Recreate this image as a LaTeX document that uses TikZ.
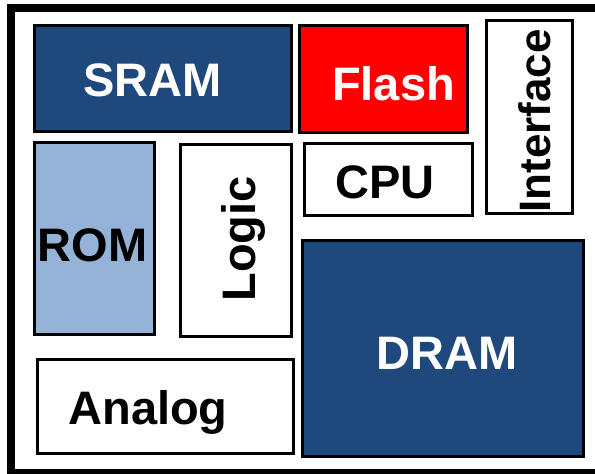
\documentclass[tikz,border=0pt]{standalone}
\usepackage{fontspec}
\setmainfont{Liberation Sans}
\definecolor{darkblue}{HTML}{1F497D}
\definecolor{lightblue}{HTML}{95B3D7}
\definecolor{flashred}{HTML}{FF0000}
\begin{document}
\begin{tikzpicture}[x=1pt,y=-1pt,
  block/.style={draw=black, line width=3pt, inner sep=0pt},
  lbl/.style={inner sep=0pt, anchor=base, font=\fontsize{47}{47}\selectfont\bfseries},
  vlbl/.style={lbl, rotate=90}]
\useasboundingbox (0,0) rectangle (595,474);
\clip (0,0) rectangle (595,474);
% die outline (open on the right)
\draw[line width=8pt] (605,8) -- (11,8) -- (11,473) -- (605,473);
% functional blocks
\node[block, fill=darkblue, minimum width=257pt, minimum height=106pt] (sram) at (163,78.5) {};
\node[block, fill=flashred, minimum width=168pt, minimum height=107pt] (flash) at (383.5,79) {};
\node[block, fill=white, minimum width=86pt, minimum height=193pt] (iface) at (529.5,117) {};
\node[block, fill=white, minimum width=168pt, minimum height=72pt] (cpu) at (388.5,179.5) {};
\node[block, fill=lightblue, minimum width=120pt, minimum height=192pt] (rom) at (94.5,238.5) {};
\node[block, fill=white, minimum width=111pt, minimum height=192pt] (logic) at (236,240.5) {};
\node[block, fill=white, minimum width=256pt, minimum height=94pt] (analog) at (165.5,406.5) {};
\node[block, fill=darkblue, line width=3.5pt, minimum width=281pt, minimum height=216pt] (dram) at (443,348.5) {};
% block names
\node[lbl, text=white] (sramtxt) at (152.5,96) {SRAM};
\node[lbl, text=white] (flashtxt) at (393.5,100) {Flash};
\node[lbl] (cputxt) at (385,198) {CPU};
\node[lbl] (romtxt) at (92.5,261) {ROM};
\node[lbl] (analogtxt) at (148,424) {Analog};
\node[lbl, text=white] (dramtxt) at (447,369) {DRAM};
\node[vlbl] (logictxt) at (255,239) {Logic};
\node[vlbl, font=\fontsize{44}{44}\selectfont\bfseries] (ifacetxt) at (550,121) {Interface};
\end{tikzpicture}
\end{document}
